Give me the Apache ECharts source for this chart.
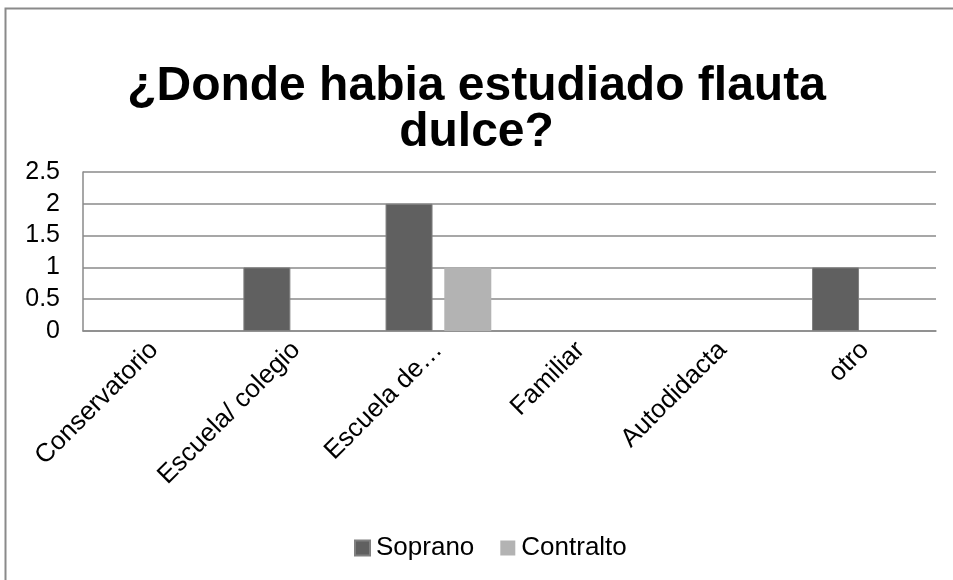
<!DOCTYPE html>
<html>
<head>
<meta charset="utf-8">
<script src="https://cdn.jsdelivr.net/npm/echarts@6/dist/echarts.min.js"></script>
<style>html,body{margin:0;padding:0;background:#fff}#c{width:953px;height:580px}</style>
</head>
<body>
<div id="c"></div>
<script>
const titleText = '¿Donde habia estudiado flauta\ndulce?';
const categories = ['Conservatorio', 'Escuela/ colegio', 'Escuela de…', 'Familiar', 'Autodidacta', 'otro'];
const sopranoValues = [null, 1, 2, null, null, 1];
const contraltoValues = [null, null, 1, null, null, null];
const yTicks = [0, 0.5, 1, 1.5, 2, 2.5];

const font = 'Liberation Sans, Arial, sans-serif';
const chart = echarts.init(document.getElementById('c'), null, {renderer: 'canvas'});
chart.setOption({
  animation: false,
  backgroundColor: '#fff',
  graphic: [{
    type: 'rect', left: 3, top: 6, shape: {x: 0, y: 0, width: 1000, height: 1000},
    style: {fill: 'none', stroke: '#8a8a8a', lineWidth: 2}, silent: true, z: -1
  }],
  title: {
    text: titleText, left: 'center', top: 59,
    textStyle: {fontFamily: font, fontWeight: 'bold', fontSize: 48, color: '#000', lineHeight: 46}
  },
  legend: {
    top: 535, left: 354, padding: 0, itemWidth: 15, itemHeight: 15, itemGap: 26, icon: 'rect',
    textStyle: {fontFamily: font, fontSize: 26, color: '#000', padding: [0, 0, 0, 1]},
    data: ['Soprano', 'Contralto']
  },
  grid: {left: 83, right: 17, top: 172, bottom: 249, containLabel: false},
  xAxis: {
    type: 'category', data: categories,
    axisLine: {lineStyle: {color: '#8a8a8a', width: 1.5}},
    axisTick: {show: false},
    axisLabel: {rotate: 45, margin: 15, fontFamily: font, fontSize: 26, color: '#000', interval: 0}
  },
  yAxis: {
    type: 'value', min: 0, max: 2.5, interval: 0.5,
    axisLine: {show: true, lineStyle: {color: '#8a8a8a', width: 1.5}},
    axisTick: {show: false},
    axisLabel: {margin: 23, fontFamily: font, fontSize: 25, color: '#000',
      formatter: v => String(yTicks[Math.round(v / 0.5)])},
    splitLine: {lineStyle: {color: '#8a8a8a', width: 1.5}}
  },
  series: [
    {name: 'Soprano', type: 'bar', data: sopranoValues, barWidth: 47, barGap: '25%',
     itemStyle: {color: '#606060', borderColor: '#808080', borderWidth: 1}},
    {name: 'Contralto', type: 'bar', data: contraltoValues, barWidth: 47,
     itemStyle: {color: '#b3b3b3'}}
  ]
});
</script>
</body>
</html>
